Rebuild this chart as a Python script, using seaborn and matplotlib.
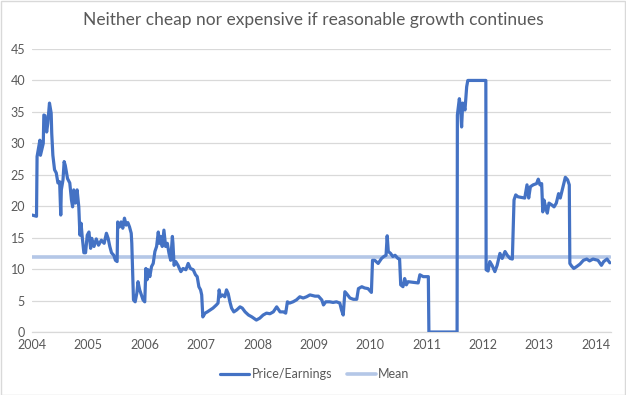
import numpy as np
import pandas as pd
import matplotlib
matplotlib.use("Agg")
import matplotlib.pyplot as plt
import seaborn as sns

# ---- data (decimal year, P/E) ----
years = [
    2004.00, 2004.08, 2004.09, 2004.14, 2004.15, 2004.20, 2004.21, 2004.23, 2004.26, 2004.28,
    2004.31, 2004.34, 2004.35, 2004.37, 2004.40, 2004.43, 2004.46, 2004.49, 2004.51, 2004.52,
    2004.55, 2004.57, 2004.59, 2004.63, 2004.67, 2004.70, 2004.72, 2004.74, 2004.77, 2004.80,
    2004.83, 2004.85, 2004.87, 2004.89, 2004.92, 2004.95, 2004.98, 2005.01, 2005.04, 2005.06,
    2005.10, 2005.14, 2005.18, 2005.23, 2005.28, 2005.32, 2005.35, 2005.38, 2005.41, 2005.45,
    2005.48, 2005.51, 2005.52, 2005.55, 2005.58, 2005.61, 2005.64, 2005.67, 2005.70, 2005.73,
    2005.76, 2005.77, 2005.79, 2005.80, 2005.83, 2005.86, 2005.88, 2005.91, 2005.94, 2005.97,
    2006.00, 2006.02, 2006.04, 2006.06, 2006.09, 2006.12, 2006.15, 2006.18, 2006.21, 2006.24,
    2006.26, 2006.28, 2006.31, 2006.34, 2006.37, 2006.40, 2006.43, 2006.46, 2006.49, 2006.50,
    2006.52, 2006.55, 2006.59, 2006.64, 2006.68, 2006.73, 2006.77, 2006.81, 2006.86, 2006.90,
    2006.93, 2006.96, 2006.99, 2007.01, 2007.03, 2007.07, 2007.11, 2007.16, 2007.21, 2007.27,
    2007.30, 2007.32, 2007.34, 2007.38, 2007.42, 2007.45, 2007.48, 2007.51, 2007.54, 2007.58,
    2007.63, 2007.69, 2007.73, 2007.78, 2007.84, 2007.90, 2007.98, 2008.04, 2008.10, 2008.16,
    2008.22, 2008.28, 2008.34, 2008.40, 2008.46, 2008.50, 2008.53, 2008.57, 2008.63, 2008.69,
    2008.75, 2008.81, 2008.87, 2008.93, 2009.02, 2009.08, 2009.14, 2009.17, 2009.21, 2009.28,
    2009.34, 2009.40, 2009.46, 2009.49, 2009.52, 2009.55, 2009.58, 2009.64, 2009.70, 2009.76,
    2009.79, 2009.85, 2009.90, 2009.96, 2010.02, 2010.04, 2010.08, 2010.14, 2010.20, 2010.24,
    2010.28, 2010.30, 2010.32, 2010.36, 2010.40, 2010.44, 2010.49, 2010.52, 2010.54, 2010.58,
    2010.61, 2010.64, 2010.67, 2010.76, 2010.85, 2010.88, 2010.94, 2011.03, 2011.04, 2011.54,
    2011.545, 2011.58, 2011.60, 2011.62, 2011.64, 2011.68, 2011.71, 2011.73, 2012.05, 2012.055,
    2012.09, 2012.12, 2012.16, 2012.21, 2012.25, 2012.30, 2012.34, 2012.39, 2012.43, 2012.48,
    2012.52, 2012.55, 2012.58, 2012.62, 2012.68, 2012.74, 2012.78, 2012.81, 2012.84, 2012.89,
    2012.95, 2012.98, 2013.01, 2013.04, 2013.06, 2013.08, 2013.11, 2013.14, 2013.17, 2013.22,
    2013.26, 2013.30, 2013.34, 2013.37, 2013.42, 2013.46, 2013.50, 2013.53, 2013.54, 2013.57,
    2013.61, 2013.66, 2013.72, 2013.78, 2013.84, 2013.89, 2013.95, 2014.04, 2014.10, 2014.14,
    2014.20, 2014.25,
]
pe_values = [
    18.6, 18.4, 27.9, 30.5, 28.1, 30.0, 34.5, 34.4, 31.8, 33.2,
    36.4, 34.8, 31.6, 28.1, 25.8, 25.3, 23.7, 23.9, 18.6, 22.6,
    24.2, 27.1, 26.5, 24.4, 23.7, 21.0, 19.9, 22.6, 20.5, 22.6,
    19.9, 15.4, 17.3, 15.2, 12.6, 12.6, 15.4, 15.9, 13.3, 14.9,
    13.6, 14.8, 13.8, 14.6, 14.1, 15.7, 14.9, 13.6, 12.6, 12.2,
    11.4, 11.2, 17.5, 16.7, 17.5, 16.5, 18.1, 17.0, 17.4, 16.7,
    15.7, 14.1, 8.3, 5.1, 4.8, 6.2, 8.0, 6.7, 5.9, 5.1,
    4.8, 10.1, 8.3, 9.9, 8.8, 10.4, 10.9, 12.8, 13.6, 15.9,
    14.1, 15.2, 13.6, 16.2, 13.6, 14.1, 12.5, 11.4, 15.2, 14.1,
    10.6, 11.2, 10.6, 9.6, 10.1, 9.9, 10.9, 10.1, 9.9, 9.1,
    8.8, 7.2, 6.7, 5.9, 2.4, 3.0, 3.2, 3.5, 3.8, 4.3,
    4.6, 6.7, 5.6, 5.9, 5.6, 6.7, 6.1, 4.8, 3.8, 3.2,
    3.5, 4.0, 3.8, 3.2, 2.7, 2.4, 1.9, 2.2, 2.7, 3.0,
    2.9, 3.2, 4.0, 3.2, 3.2, 3.0, 4.8, 4.6, 4.8, 5.1,
    5.6, 5.4, 5.6, 5.9, 5.7, 5.7, 5.1, 4.3, 4.8, 4.8,
    4.7, 4.8, 4.6, 3.5, 2.7, 6.4, 6.1, 5.4, 5.2, 5.2,
    6.9, 7.2, 7.0, 6.9, 6.3, 11.4, 11.4, 10.9, 11.7, 12.0,
    12.2, 15.3, 12.8, 12.5, 12.0, 12.2, 11.7, 11.6, 7.5, 7.2,
    8.5, 7.5, 8.0, 7.9, 7.8, 9.1, 8.8, 8.8, 0.0, 0.0,
    34.5, 37.1, 35.8, 32.6, 36.4, 35.3, 39.0, 40.0, 40.0, 9.9,
    9.7, 11.2, 10.6, 9.6, 10.6, 12.5, 11.7, 12.8, 12.2, 11.7,
    11.6, 21.0, 21.8, 21.5, 21.4, 21.3, 23.4, 21.3, 23.1, 23.4,
    23.6, 24.3, 23.4, 23.6, 19.1, 21.0, 19.9, 18.9, 20.5, 20.2,
    19.9, 20.5, 22.0, 21.3, 23.1, 24.6, 24.2, 23.4, 10.9, 10.5,
    10.1, 10.4, 10.8, 11.4, 11.6, 11.3, 11.6, 11.4, 10.6, 11.2,
    11.6, 11.0,
]
mean_value = 12.0
year_ticks = list(range(2004, 2015))
y_ticks = list(range(0, 50, 5))
title = "Neither cheap nor expensive if reasonable growth continues"
series_names = ["Price/Earnings", "Mean"]

df = pd.DataFrame({"year": years, "pe": pe_values})
df_mean = pd.DataFrame({"year": [years[0], years[-1]], "pe": [mean_value, mean_value]})

sns.set_theme(style="white")
plt.rcParams["font.family"] = ["Lato", "DejaVu Sans"]

TXT = "#595959"
GRID = "#D9D9D9"
C_PE = "#4472C4"
C_MEAN = "#B4C7E7"

fig = plt.figure(figsize=(6.26, 3.95), dpi=100)
ax = fig.add_axes([32 / 626, 63 / 395, (611 - 32) / 626, (332 - 49) / 395])

sns.lineplot(data=df_mean, x="year", y="pe", ax=ax, color=C_MEAN, linewidth=2.6,
             label=series_names[1], zorder=2)
sns.lineplot(data=df, x="year", y="pe", ax=ax, color=C_PE, linewidth=2.3,
             label=series_names[0], zorder=3, sort=False)

ax.set_xlim(2004, 2014.27)
ax.set_ylim(0, 45)
ax.set_xticks(year_ticks)
ax.set_xticklabels([str(y) for y in year_ticks], color=TXT, fontsize=9)
ax.set_yticks(y_ticks)
ax.set_yticklabels([str(v) for v in y_ticks], color=TXT, fontsize=9)
ax.tick_params(axis="both", length=0, pad=5)
ax.grid(axis="y", color=GRID, linewidth=0.9)
ax.grid(axis="x", visible=False)
for s in ["top", "right", "left"]:
    ax.spines[s].set_visible(False)
ax.spines["bottom"].set_color(GRID)
ax.spines["bottom"].set_linewidth(0.9)
ax.set_xlabel("")
ax.set_ylabel("")

fig.suptitle(title, x=0.5, y=1 - 20 / 395, va="center", fontsize=12.5, color=TXT)

handles, labels = ax.get_legend_handles_labels()
order = [labels.index(series_names[0]), labels.index(series_names[1])]
ax.get_legend().remove()
fig.legend([handles[i] for i in order], [labels[i] for i in order],
           loc="center", bbox_to_anchor=(315 / 626, 1 - 374 / 395), ncol=2,
           frameon=False, fontsize=9, handlelength=2.3, handletextpad=0.2,
           columnspacing=1.2, labelcolor=TXT)

fig.patches.append(plt.Rectangle((0.5 / 626, 0.5 / 395), 1 - 1.5 / 626, 1 - 1.5 / 395,
                                 transform=fig.transFigure, fill=False,
                                 edgecolor=GRID, linewidth=1))

fig.savefig("out.png", dpi=100)
